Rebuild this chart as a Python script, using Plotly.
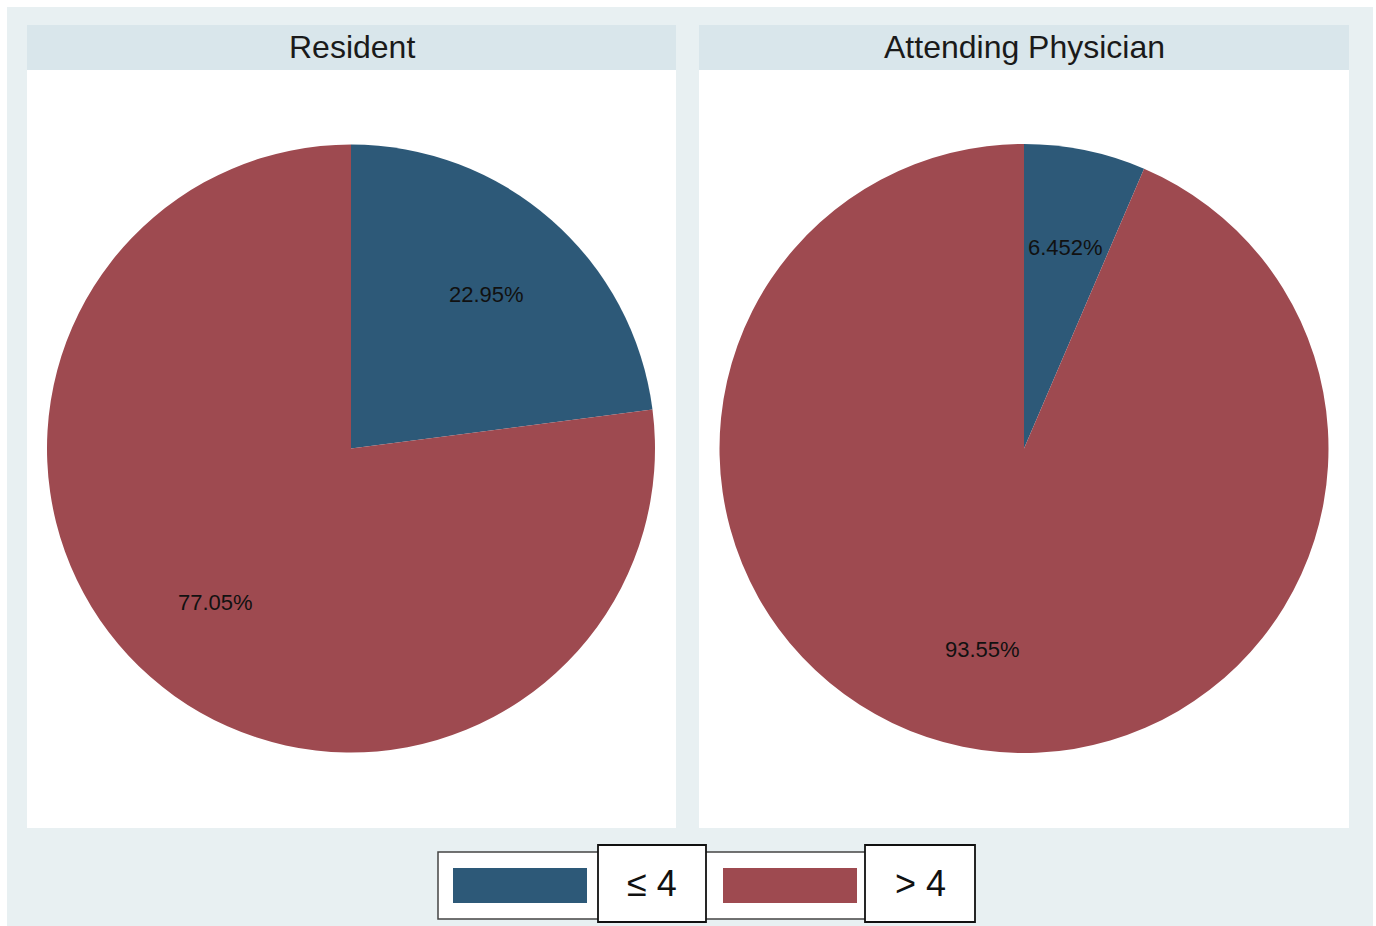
import math
import plotly.graph_objects as go

# ---- data ----
groups = ["Resident", "Attending Physician"]
categories = ["≤ 4", "> 4"]
resident_pct = [22.95, 77.05]
attending_pct = [6.452, 93.55]
series = [resident_pct, attending_pct]
colors = ["#2D5978", "#9E4A50"]

W, H = 1376, 926
FONT = "Liberation Sans, Arial, Helvetica"
def px(x):
    return x / W
def py(y):
    return 1 - y / H

fig = go.Figure()

shapes = []
annotations = []

# outer background
shapes.append(dict(type="rect", xref="paper", yref="paper", x0=px(7), x1=px(1373), y0=py(926), y1=py(7),
                   fillcolor="#E8F0F2", line=dict(width=0), layer="below"))

panels = [(27, 676), (699, 1349)]
pie_boxes = [(47, 655), (719, 1329)]
pie_top, pie_bot = 144, 753

for gi, (name, vals) in enumerate(zip(groups, series)):
    x0, x1 = panels[gi]
    # panel body
    shapes.append(dict(type="rect", xref="paper", yref="paper", x0=px(x0), x1=px(x1), y0=py(828), y1=py(70),
                       fillcolor="white", line=dict(width=0), layer="below"))
    # header
    shapes.append(dict(type="rect", xref="paper", yref="paper", x0=px(x0), x1=px(x1), y0=py(70), y1=py(25),
                       fillcolor="#D9E6EB", line=dict(width=0), layer="below"))
    annotations.append(dict(text=name, xref="paper", yref="paper", x=px((x0 + x1) / 2), y=py(47),
                            showarrow=False, xanchor="center", yanchor="middle",
                            font=dict(size=32, color="#1a1a1a", family=FONT)))
    bx0, bx1 = pie_boxes[gi]
    fig.add_trace(go.Pie(
        labels=categories, values=vals, sort=False, direction="clockwise", rotation=0,
        marker=dict(colors=colors, line=dict(width=0)), textinfo="none", hoverinfo="label+percent",
        domain=dict(x=[px(bx0), px(bx1)], y=[py(pie_bot), py(pie_top)]), showlegend=False,
    ))
    # percent labels at 2/3 radius along the slice bisector
    cx = (bx0 + bx1) / 2
    cy = (pie_top + pie_bot) / 2
    r = min(bx1 - bx0, pie_bot - pie_top) / 2
    total = sum(vals)
    start = 0.0
    for v in vals:
        frac = v / total
        mid = (start + frac / 2) * 2 * math.pi
        tx = cx + 0.675 * r * math.sin(mid)
        ty = cy - 0.675 * r * math.cos(mid)
        annotations.append(dict(text=format(v, ".4g") + "%", xref="paper", yref="paper", x=px(tx), y=py(ty),
                                showarrow=False, xanchor="center", yanchor="middle",
                                font=dict(size=22, color="#111111", family=FONT)))
        start += frac

# legend (custom, Stata style)
shapes.append(dict(type="rect", xref="paper", yref="paper", x0=px(438), x1=px(868), y0=py(919), y1=py(852),
                   fillcolor="white", line=dict(color="#444444", width=1.5)))
swatches = [(453, 587), (723, 857)]
label_boxes = [(598, 706), (865, 975)]
for i, cat in enumerate(categories):
    sx0, sx1 = swatches[i]
    shapes.append(dict(type="rect", xref="paper", yref="paper", x0=px(sx0), x1=px(sx1), y0=py(903), y1=py(868),
                       fillcolor=colors[i], line=dict(width=0)))
    lx0, lx1 = label_boxes[i]
    shapes.append(dict(type="rect", xref="paper", yref="paper", x0=px(lx0), x1=px(lx1), y0=py(922), y1=py(845),
                       fillcolor="white", line=dict(color="#111111", width=1.8)))
    annotations.append(dict(text=cat, xref="paper", yref="paper", x=px((lx0 + lx1) / 2), y=py(883),
                            showarrow=False, xanchor="center", yanchor="middle",
                            font=dict(size=36, color="#111111", family=FONT)))

fig.update_layout(
    width=W, height=H, margin=dict(l=0, r=0, t=0, b=0),
    paper_bgcolor="white", plot_bgcolor="white",
    shapes=shapes, annotations=annotations, showlegend=False,
)

fig.write_html("out.html", config={"displayModeBar": False},
               post_script="document.body.style.margin='0';document.body.style.overflow='hidden';")
